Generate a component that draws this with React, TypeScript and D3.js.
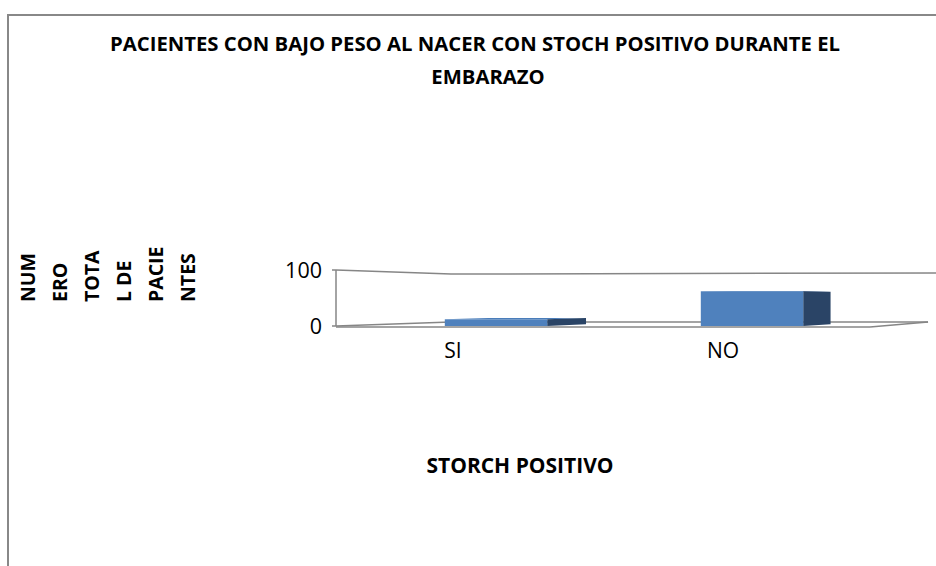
import React from 'react';
import * as d3 from 'd3';

const categories = ['SI', 'NO'];
const values = [12, 62];
const yTicks = [0, 100];
const titleLines = ['PACIENTES CON BAJO PESO AL NACER CON STOCH POSITIVO DURANTE EL', 'EMBARAZO'];
const yTitleChunks = ['NUM', 'ERO', 'TOTA', 'L DE', 'PACIE', 'NTES'];
const xTitle = 'STORCH POSITIVO';

const W = 936;
const H = 566;
const FONT = "'Open Sans', sans-serif";
const AX = 336;
const FRONT_RIGHT = 870;
const LINE = '#868686';

const y = d3.scaleLinear().domain([0, 100]).range([326, 270]);
const xBar = d3.scaleBand<string>().domain(categories).range([368, 880]).paddingInner(0.6).paddingOuter(0.3);
const xLabel = d3.scaleBand<string>().domain(categories).range([318, 858]);

// simple perspective projection for depth d in [0,1]
const VX = 1415, VY = 298, TX = 0.1065, TY = 0.143;
const proj = (x: number, yy: number, d: number): [number, number] => [x + d * TX * (VX - x), yy + d * TY * (VY - yy)];
const BAR_DEPTH = 0.42;

const pts = (arr: [number, number][]) => arr.map(p => p.join(',')).join(' ');

export default function App() {
  const y0 = y(0);
  const y100 = y(100);
  const topBack = proj(AX, y100, 1);
  const floorBL = proj(AX, y0, 1);
  const floorBR = proj(FRONT_RIGHT, y0, 1);
  const bw = xBar.bandwidth();

  return (
    <svg width={W} height={H} style={{ position: 'absolute', left: 0, top: 0, background: '#fff' }} fontFamily={FONT}>
      <rect x={0} y={0} width={W} height={H} fill="#fff" />
      <path d={`M8,${H + 5} L8,15 L${W + 5},15`} fill="none" stroke="#888" strokeWidth={2} />

      {titleLines.map((t, i) => (
        <text key={i} x={i === 0 ? 475 : 488} y={51 + i * 33} textAnchor="middle" fontWeight="bold" fontSize={20.3} fill="#000">{t}</text>
      ))}

      {yTitleChunks.map((t, i) => (
        <text key={i} transform={`translate(${35 + 32 * i},302) rotate(-90)`} textAnchor="start" fontWeight="bold" fontSize={19.5} fill="#000">{t}</text>
      ))}

      {/* walls and floor */}
      <g fill="none" stroke={LINE} strokeWidth={1.5}>
        <polyline points={pts([[AX, y100], topBack, [W, topBack[1] - 1]])} />
        <line x1={AX} y1={y100} x2={AX} y2={y0} />
        <line x1={AX} y1={y0} x2={floorBL[0]} y2={floorBL[1]} />
        <line x1={floorBL[0]} y1={floorBL[1]} x2={floorBR[0]} y2={floorBR[1]} />
        <line x1={AX} y1={y0 + 1} x2={FRONT_RIGHT} y2={y0 + 1} />
        <line x1={FRONT_RIGHT} y1={y0 + 1} x2={floorBR[0]} y2={floorBR[1]} />
      </g>

      {/* axis ticks */}
      {yTicks.map(t => (
        <g key={t}>
          <line x1={AX - 4} x2={AX} y1={y(t)} y2={y(t)} stroke={LINE} strokeWidth={1.5} />
          <text x={AX - 14} y={y(t) + 7.5} textAnchor="end" fontSize={21.5} fill="#000">{t}</text>
        </g>
      ))}

      {/* bars */}
      {categories.map((c, i) => {
        const x0 = xBar(c)!;
        const x1 = x0 + bw;
        const yt = y(values[i]);
        const top: [number, number][] = [[x0, yt], [x1, yt], proj(x1, yt, BAR_DEPTH), proj(x0, yt, BAR_DEPTH)];
        const side: [number, number][] = [[x1, yt], proj(x1, yt, BAR_DEPTH), proj(x1, y0, BAR_DEPTH), [x1, y0]];
        return (
          <g key={c}>
            <polygon points={pts(top)} fill="#4A7DBA" />
            <polygon points={pts(side)} fill="#2A4466" />
            <rect x={x0} y={yt} width={bw} height={y0 - yt} fill="#4F81BD" />
          </g>
        );
      })}

      {categories.map(c => (
        <text key={c} x={xLabel(c)! + xLabel.bandwidth() / 2} y={358} textAnchor="middle" fontSize={21} fill="#000">{c}</text>
      ))}

      <text x={520} y={473} textAnchor="middle" fontWeight="bold" fontSize={21} fill="#000">{xTitle}</text>
    </svg>
  );
}
